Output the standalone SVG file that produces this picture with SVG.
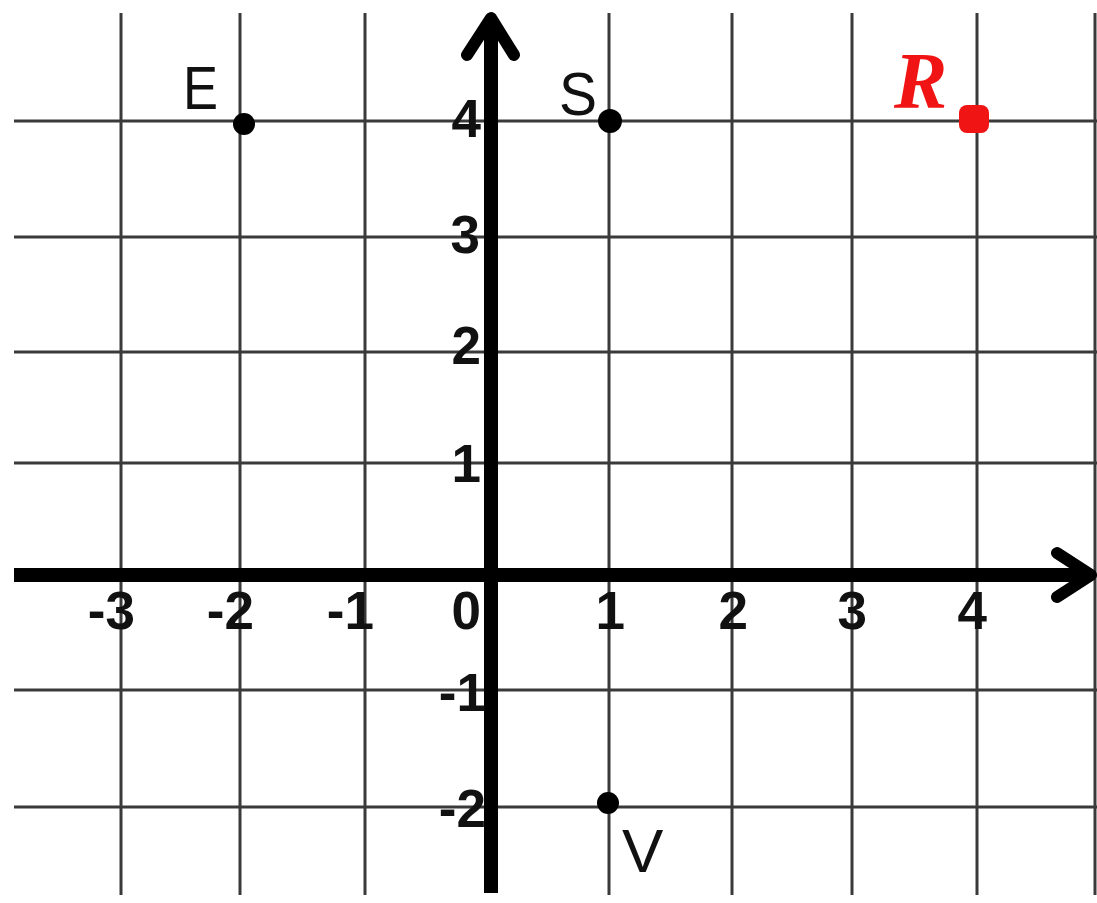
<svg xmlns="http://www.w3.org/2000/svg" width="1097" height="903" viewBox="0 0 1097 903">
<style>
.grid line{stroke:#3a3a3a;stroke-width:3}
.axis{stroke:#000;stroke-width:14;fill:none}
.chev{stroke:#000;stroke-width:12;fill:none;stroke-linecap:round;stroke-linejoin:round}
.tick{font-family:"Liberation Sans",Arial,sans-serif;font-weight:bold;font-size:53px;fill:#111}
.lbl{font-family:"Liberation Sans",Arial,sans-serif;font-size:62px;fill:#111}
.dot{fill:#000}
</style>
<rect x="0" y="0" width="1097" height="903" fill="#fff"/>
<g id="grid" class="grid">
<line x1="121" y1="13" x2="121" y2="895"/>
<line x1="240" y1="13" x2="240" y2="895"/>
<line x1="365" y1="13" x2="365" y2="895"/>
<line x1="609" y1="13" x2="609" y2="895"/>
<line x1="732" y1="13" x2="732" y2="895"/>
<line x1="852" y1="13" x2="852" y2="895"/>
<line x1="977" y1="13" x2="977" y2="895"/>
<line x1="1095" y1="13" x2="1095" y2="895"/>
<line x1="14" y1="121" x2="1097" y2="121"/>
<line x1="14" y1="237" x2="1097" y2="237"/>
<line x1="14" y1="352" x2="1097" y2="352"/>
<line x1="14" y1="463" x2="1097" y2="463"/>
<line x1="14" y1="690" x2="1097" y2="690"/>
<line x1="14" y1="807" x2="1097" y2="807"/>
</g>
<g id="axes">
<line class="axis" x1="14" y1="575" x2="1088" y2="575"/>
<polyline class="chev" points="1057,553 1091,575 1057,597"/>
<line class="axis" x1="491" y1="893" x2="491" y2="22"/>
<polyline class="chev" points="467,55 491,18 514,55"/>
</g>
<g id="ticks">
<text class="tick" x="135" y="629" text-anchor="end">-3</text>
<text class="tick" x="254" y="629" text-anchor="end">-2</text>
<text class="tick" x="374" y="629" text-anchor="end">-1</text>
<text class="tick" x="481" y="629" text-anchor="end">0</text>
<text class="tick" x="625" y="629" text-anchor="end">1</text>
<text class="tick" x="748" y="629" text-anchor="end">2</text>
<text class="tick" x="867" y="629" text-anchor="end">3</text>
<text class="tick" x="987" y="629" text-anchor="end">4</text>
<text class="tick" x="481" y="137" text-anchor="end">4</text>
<text class="tick" x="480" y="253" text-anchor="end">3</text>
<text class="tick" x="481" y="364" text-anchor="end">2</text>
<text class="tick" x="481" y="482" text-anchor="end">1</text>
<text class="tick" x="486" y="711" text-anchor="end">-1</text>
<text class="tick" x="486" y="827" text-anchor="end">-2</text>
</g>
<g id="point-E">
<circle class="dot" cx="244" cy="124" r="11"/>
<text class="lbl" x="183" y="109" textLength="35" lengthAdjust="spacingAndGlyphs">E</text>
</g>
<g id="point-S">
<circle class="dot" cx="610" cy="121" r="12"/>
<text class="lbl" x="559" y="115" textLength="38" lengthAdjust="spacingAndGlyphs">S</text>
</g>
<g id="point-V">
<circle class="dot" cx="608" cy="803" r="11"/>
<text class="lbl" x="622" y="872">V</text>
</g>
<g id="point-R">
<rect x="959" y="105" width="30" height="28" rx="8" fill="#f01414"/>
<text x="894" y="108" font-family="'Liberation Serif','Times New Roman',serif" font-weight="bold" font-style="italic" font-size="80" fill="#f01414">R</text>
</g>
</svg>
